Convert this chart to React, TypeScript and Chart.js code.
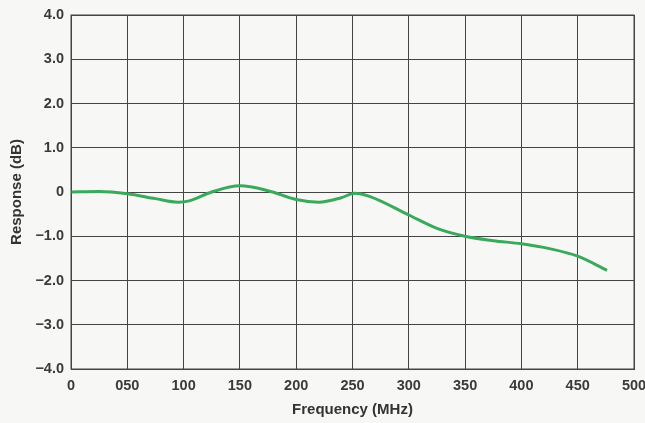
import React, { useEffect, useRef } from "react";
import { Chart, registerables } from "chart.js";

Chart.register(...registerables);

const frequencies = [0, 25, 50, 75, 95, 105, 125, 150, 175, 200, 220, 240, 252, 265, 300, 325, 350, 375, 400, 425, 450, 476];
const responses = [0, 0.01, -0.04, -0.15, -0.23, -0.2, 0.0, 0.14, 0.03, -0.17, -0.23, -0.13, -0.03, -0.1, -0.52, -0.82, -1.0, -1.1, -1.17, -1.28, -1.45, -1.77];
const xTickLabels: Record<number, string> = { 0: "0", 50: "050", 100: "100", 150: "150", 200: "200", 250: "250", 300: "300", 350: "350", 400: "400", 450: "450", 500: "500" };
const yTickLabels: Record<number, string> = { 4: "4.0", 3: "3.0", 2: "2.0", 1: "1.0", 0: "0", [-1]: "\u22121.0", [-2]: "\u22122.0", [-3]: "\u22123.0", [-4]: "\u22124.0" };

export default function App() {
  const ref = useRef<HTMLCanvasElement | null>(null);
  useEffect(() => {
    if (!ref.current) return;
    const tickFont = { family: "'Liberation Sans', Arial, sans-serif", size: 14.5, weight: "bold" as const };
    const titleFont = { family: "'Liberation Sans', Arial, sans-serif", size: 15, weight: "bold" as const };
    const chart = new Chart(ref.current, {
      type: "line",
      data: {
        datasets: [
          {
            data: frequencies.map((f, i) => ({ x: f, y: responses[i] })),
            borderColor: "#3aa95a",
            borderWidth: 3,
            pointRadius: 0,
            tension: 0.4,
            cubicInterpolationMode: "monotone",
            fill: false,
          },
        ],
      },
      options: {
        responsive: false,
        animation: false,
        layout: { padding: { top: 15, right: 11, left: 0, bottom: 0 } },
        plugins: { legend: { display: false }, tooltip: { enabled: false } },
        scales: {
          x: {
            type: "linear",
            min: 0,
            max: 500,
            border: { display: true, color: "#444", width: 1 },
            grid: { color: "#444", lineWidth: 1, drawTicks: false },
            ticks: {
              stepSize: 50,
              padding: 8,
              color: "#3a3a3a",
              font: tickFont,
              maxRotation: 0,
              callback: (v: any) => xTickLabels[v as number] ?? "",
            },
            title: { display: true, text: "Frequency (MHz)", color: "#333", font: titleFont, padding: { top: 0, bottom: 4 } },
            afterFit: (s: any) => { s.height = 54; s.paddingRight = 11; s.paddingLeft = 0; },
          },
          y: {
            min: -4,
            max: 4,
            border: { display: true, color: "#444", width: 1 },
            grid: { color: "#444", lineWidth: 1, drawTicks: false },
            ticks: {
              stepSize: 1,
              padding: 7,
              color: "#3a3a3a",
              font: tickFont,
              callback: (v: any) => yTickLabels[v as number] ?? "",
            },
            title: { display: true, text: "Response (dB)", color: "#333", font: titleFont, padding: { top: 8, bottom: 4 } },
            afterFit: (s: any) => { s.width = 71; s.paddingTop = 15; s.paddingBottom = 0; },
          },
        },
      },
      plugins: [
        {
          id: "box",
          afterDraw: (c: any) => {
            const { ctx, chartArea } = c;
            ctx.save();
            ctx.strokeStyle = "#444";
            ctx.lineWidth = 1;
            ctx.strokeRect(chartArea.left, chartArea.top, chartArea.right - chartArea.left, chartArea.bottom - chartArea.top);
            ctx.restore();
          },
        },
      ],
    });
    return () => chart.destroy();
  }, []);
  return (
    <div style={{ position: "absolute", left: 0, top: 0, width: 645, height: 423, background: "#f7f7f5" }}>
      <canvas ref={ref} width={645} height={423} />
    </div>
  );
}
